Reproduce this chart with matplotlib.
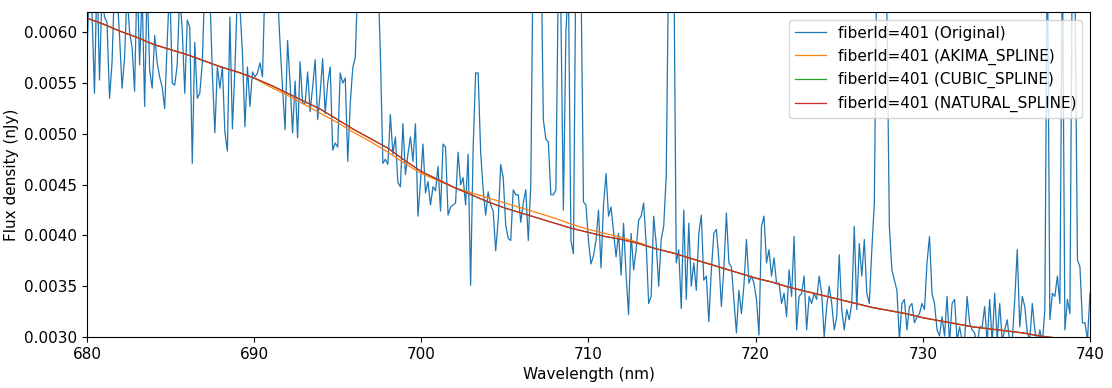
import numpy as np
import matplotlib
matplotlib.use("Agg")
import matplotlib.pyplot as plt

# muestreo del espectro (nm)
wl_start = 680.0
wl_step = 0.15
fiber_id = 401

# flujo observado, en unidades de 1e-5 nJy
flux_original = [
    579, 650, 620, 540, 660, 553, 640, 615, 610, 535,
    570, 650, 640, 596, 545, 575, 640, 600, 585, 542,
    660, 568, 640, 527, 650, 563, 545, 597, 570, 556,
    546, 525, 590, 650, 550, 548, 568, 640, 602, 540,
    612, 605, 471, 590, 535, 540, 570, 650, 660, 640,
    560, 501, 566, 545, 566, 502, 483, 615, 505, 563,
    640, 625, 580, 507, 566, 527, 561, 556,
    560, 570, 556, 650, 680, 700, 690, 670, 640, 589,
    545, 504, 592, 550, 501, 552, 496, 571, 530, 530,
    561, 522, 546, 573, 514, 540, 574, 520, 550, 566,
    484, 491, 487, 560, 550, 555, 473, 530, 565, 575,
    650, 720, 780, 820, 840, 820, 780, 720, 660, 580,
    471, 475, 470, 519, 480, 497, 452, 448, 510, 460,
    480, 497, 473, 510, 419, 452, 490, 442,
    453, 430, 448, 444, 468, 424, 490, 487, 420, 428,
    430, 432, 482, 450, 457, 430, 480, 351, 485, 560,
    560, 482, 445, 420, 443, 430, 424, 385, 415, 470,
    457, 410, 397, 395, 445, 440, 440, 413, 432, 445,
    395, 450, 700, 800, 820, 700, 514, 495, 492, 440,
    440, 445, 660, 620, 425, 600, 650, 395, 382, 680,
    720, 660, 433, 430, 395, 372, 380, 395,
    425, 368, 430, 461, 419, 428, 404, 379, 402, 361,
    412, 361, 322, 402, 366, 386, 415, 419, 432, 392,
    333, 340, 419, 392, 350, 396, 409, 458, 680, 720,
    690, 373, 386, 328, 425, 337, 412, 350, 373, 346,
    402, 420, 356, 360, 315, 366, 402, 406, 376, 330,
    368, 422, 373, 369, 337, 304, 346, 323, 351, 396,
    353, 360, 353, 337, 302, 409, 419, 373,
    386, 360, 378, 353, 353, 333, 343, 320, 366, 340,
    399, 307, 340, 343, 360, 307, 340, 333, 343, 337,
    360, 343, 300, 330, 350, 333, 307, 320, 381, 327,
    307, 327, 317, 333, 409, 327, 392, 360, 396, 343,
    333, 386, 432, 680, 760, 800, 740, 620, 409, 366,
    356, 346, 297, 333, 337, 307, 330, 333, 314, 320,
    323, 333, 327, 373, 399,
    343, 333, 307, 301, 320, 301, 340, 294, 333, 337,
    297, 310, 297, 297, 340, 314, 307, 304, 291, 310,
    310, 330, 294, 337, 294, 343, 297, 333, 297, 307,
    317, 294, 297, 337, 386, 310, 340, 330, 304, 297,
    333, 307, 294, 307, 294, 327, 700, 317, 343, 340,
    360, 333, 680, 307, 337, 323, 700, 650, 376, 369,
    314, 314, 297, 343,
]

# ajustes (spline) evaluados cada 1 nm, unidades de 1e-5
wl_fit = list(range(680, 741))
flux_natural = [
    614, 608, 601, 595, 588, 583, 578, 572, 566, 561,
    555, 548, 540, 532, 524, 514, 504, 495, 486, 474,
    463, 455, 447, 440, 433, 427, 422, 417, 412, 407,
    403, 399, 396, 392, 387, 383, 378, 373, 368, 363,
    358, 354, 349, 345, 341, 337, 333, 329, 326, 323,
    319, 316, 313, 310, 308, 306, 304, 301, 299, 297,
    295,
]
flux_cubic = [
    614, 608, 601, 595, 588, 583, 578, 572, 566, 561,
    555, 548, 540, 532, 524, 514, 504, 495, 486, 474,
    463, 455, 447, 440, 433, 427, 422, 417, 412, 407,
    403, 399, 396, 392, 387, 383, 378, 373, 368, 363,
    358, 354, 349, 345, 341, 337, 333, 329, 326, 323,
    319, 316, 313, 310, 308, 306, 304, 301, 299, 297,
    295,
]
flux_akima = [
    614, 608, 601, 595, 588, 583, 578, 572, 566, 561,
    555, 546, 538, 529, 520, 511, 501, 492, 482, 471,
    461, 454, 447, 442, 437, 432, 427, 422, 417, 411,
    406, 402, 398, 393, 387, 383, 378, 373, 368, 363,
    358, 354, 349, 345, 341, 337, 333, 329, 326, 323,
    319, 316, 313, 310, 308, 306, 304, 301, 299, 297,
    295,
]


def main():
    wl = wl_start + wl_step * np.arange(len(flux_original))
    esc = 1e-5

    fig = plt.figure(figsize=(11.12, 3.88), dpi=100)
    ax = fig.add_axes([0.0782, 0.1314, 0.902, 0.8376])

    ax.plot(wl, np.array(flux_original) * esc, lw=0.9, color="#1f77b4",
            label=f"fiberId={fiber_id} (Original)")
    ax.plot(wl_fit, np.array(flux_akima) * esc, lw=0.9, color="#ff7f0e",
            label=f"fiberId={fiber_id} (AKIMA_SPLINE)")
    ax.plot(wl_fit, np.array(flux_cubic) * esc, lw=0.9, color="#2ca02c",
            label=f"fiberId={fiber_id} (CUBIC_SPLINE)")
    ax.plot(wl_fit, np.array(flux_natural) * esc, lw=0.9, color="#d62728",
            label=f"fiberId={fiber_id} (NATURAL_SPLINE)")

    ax.set_xlim(680, 740)
    ax.set_ylim(0.0030, 0.0062)
    ax.set_xticks([680, 690, 700, 710, 720, 730, 740])
    ax.set_yticks([0.0030, 0.0035, 0.0040, 0.0045, 0.0050, 0.0055, 0.0060])
    ax.set_yticklabels([f"{v:.4f}" for v in ax.get_yticks()])
    ax.tick_params(labelsize=11)
    ax.set_xlabel("Wavelength (nm)", fontsize=11)
    ax.set_ylabel("Flux density (nJy)", fontsize=11)
    ax.legend(loc="upper right", fontsize=11)

    fig.savefig("out.png", dpi=100)
    plt.close(fig)


if __name__ == "__main__":
    main()
